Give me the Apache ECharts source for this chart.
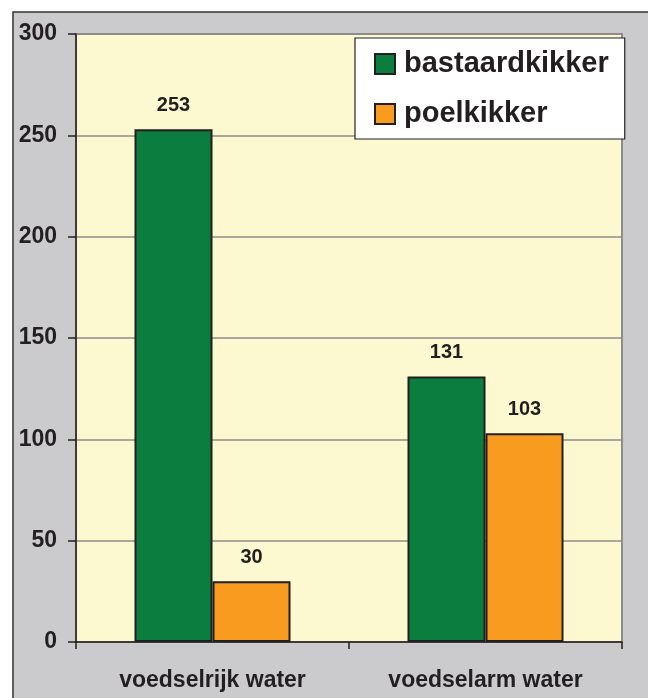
<!DOCTYPE html>
<html><head><meta charset="utf-8">
<script src="https://cdn.jsdelivr.net/npm/echarts@6/dist/echarts.min.js"></script>
<style>html,body{margin:0;padding:0;background:#fff}#c{width:648px;height:698px}</style>
</head><body><div id="c"></div>
<script>
const categories = ['voedselrijk water', 'voedselarm water'];
const seriesNames = ['bastaardkikker', 'poelkikker'];
const bastaardkikker = [253, 131];
const poelkikker = [30, 103];
const yTicks = [0, 50, 100, 150, 200, 250, 300];

const chart = echarts.init(document.getElementById('c'), null, {renderer: 'canvas'});
const font = '"Liberation Sans", Arial, sans-serif';
const ink = '#231F20';
const labelStyle = {show: true, position: 'top', distance: 14, fontFamily: font, fontWeight: 'bold', fontSize: 20, color: ink};
chart.setOption({
  animation: false,
  graphic: [{type: 'rect', z: -10, shape: {x: 13, y: 12, width: 700, height: 720},
    style: {fill: '#CBCBCD', stroke: '#333', lineWidth: 1.5}}],
  grid: {left: 76, top: 34, width: 546, height: 608, show: true, backgroundColor: '#FCF8CF', borderColor: '#8C8C88', borderWidth: 2},
  legend: {
    orient: 'vertical', left: 355, top: 38, backgroundColor: '#fff', borderColor: ink, borderWidth: 1.2,
    padding: [11, 16, 10, 19], itemGap: 20, itemWidth: 20, itemHeight: 20, icon: 'rect',
    itemStyle: {borderColor: ink, borderWidth: 2},
    textStyle: {fontFamily: font, fontWeight: 'bold', fontSize: 29, lineHeight: 30, color: ink, padding: [0, 0, 0, 4]},
    data: seriesNames
  },
  xAxis: {
    type: 'category', data: categories,
    axisLine: {lineStyle: {color: ink, width: 1.5}},
    axisTick: {show: true, length: 7, lineStyle: {color: ink, width: 1.5}},
    axisLabel: {margin: 27, fontFamily: font, fontWeight: 'bold', fontSize: 23, color: ink}
  },
  yAxis: {
    type: 'value', min: 0, max: 300, interval: 50,
    axisLine: {show: true, lineStyle: {color: ink, width: 1.5}},
    axisTick: {show: true, length: 8, lineStyle: {color: ink, width: 1.5}},
    splitLine: {lineStyle: {color: '#8C8C88', width: 1.5}},
    axisLabel: {margin: 19, fontFamily: font, fontWeight: 'bold', fontSize: 23, color: ink,
      formatter: v => yTicks.includes(v) ? String(v) : ''}
  },
  series: [
    {name: seriesNames[0], type: 'bar', data: bastaardkikker, barWidth: 78, barGap: '0%',
     itemStyle: {color: '#0B7E3F', borderColor: ink, borderWidth: 2}, label: labelStyle},
    {name: seriesNames[1], type: 'bar', data: poelkikker, barWidth: 78, barGap: '0%',
     itemStyle: {color: '#F99B1E', borderColor: ink, borderWidth: 2}, label: labelStyle}
  ]
});
</script></body></html>
